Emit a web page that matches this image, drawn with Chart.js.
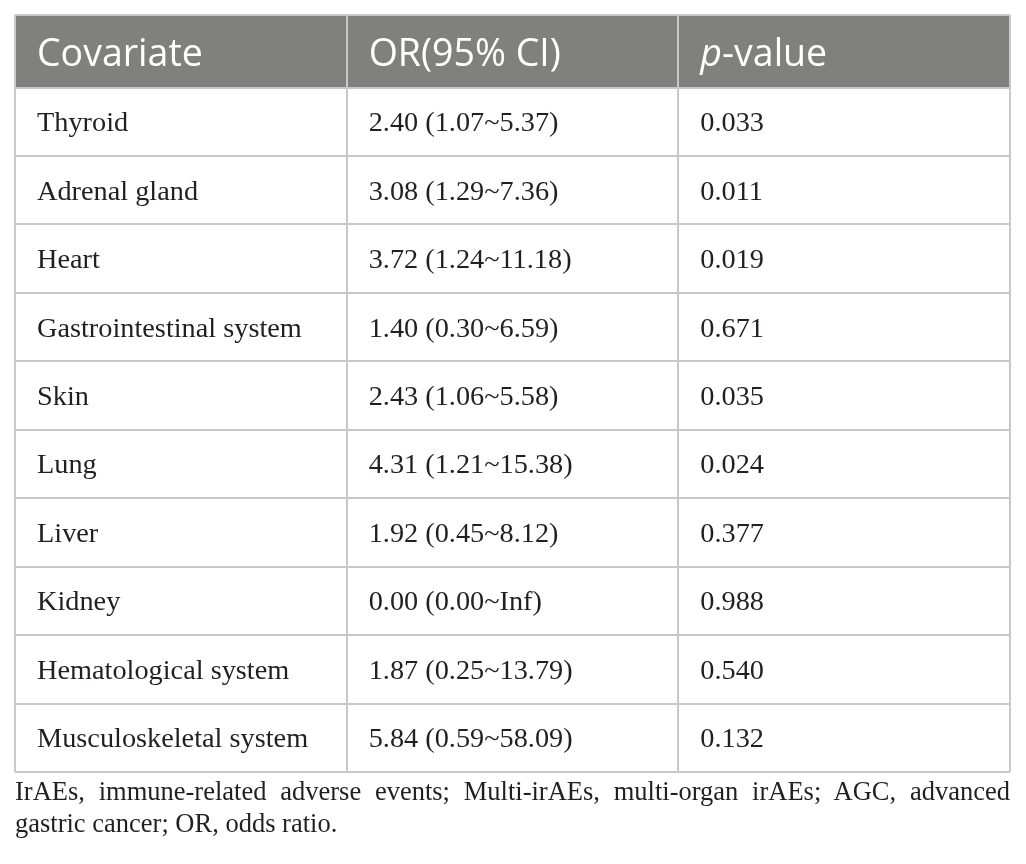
<!DOCTYPE html>
<html>
<head>
<meta charset="utf-8">
<script src="https://cdn.jsdelivr.net/npm/chart.js@4/dist/chart.umd.min.js"></script>
<style>
  html, body { margin: 0; padding: 0; background: #ffffff; }
  #wrap { position: absolute; left: 0; top: 0; width: 1026px; height: 790px; }
  .note { position: absolute; left: 15px; width: 995px; font-family: "Liberation Serif", serif; font-size: 26.5px; line-height: 32px; color: #231f20; white-space: nowrap; }
  #note1 { top: 775px; text-align: justify; text-align-last: justify; white-space: normal; }
  #note2 { top: 807px; }
</style>
</head>
<body>
<div id="wrap"><canvas id="c"></canvas></div>
<div class="note" id="note1">IrAEs, immune-related adverse events; Multi-irAEs, multi-organ irAEs; AGC, advanced</div>
<div class="note" id="note2">gastric cancer; OR, odds ratio.</div>
<script>
// ---- data ----
const headers = ["Covariate", "OR(95% CI)", "p-value"];
const covariates = ["Thyroid", "Adrenal gland", "Heart", "Gastrointestinal system", "Skin", "Lung", "Liver", "Kidney", "Hematological system", "Musculoskeletal system"];
const orValues = [2.40, 3.08, 3.72, 1.40, 2.43, 4.31, 1.92, 0.00, 1.87, 5.84];
const ciLower  = [1.07, 1.29, 1.24, 0.30, 1.06, 1.21, 0.45, 0.00, 0.25, 0.59];
const ciUpper  = [5.37, 7.36, 11.18, 6.59, 5.58, 15.38, 8.12, Infinity, 13.79, 58.09];
const pValues  = [0.033, 0.011, 0.019, 0.671, 0.035, 0.024, 0.377, 0.988, 0.540, 0.132];

const fmt2 = v => (v === Infinity ? "Inf" : v.toFixed(2));
const orText = orValues.map((v, i) => fmt2(v) + " (" + fmt2(ciLower[i]) + "~" + fmt2(ciUpper[i]) + ")");
const pText = pValues.map(v => v.toFixed(3));
const columns = [covariates, orText, pText];

const HEADER_SPAN = 1.06;
const rowEdges = [-HEADER_SPAN].concat(covariates.map((_, i) => i)).concat([covariates.length]);

const datasets = columns.map((col, c) => ({
  label: headers[c],
  data: col.map((_, r) => ({ x: c, y: r + 0.5 })),
  pointRadius: 0,
  showLine: false
}));

const tablePlugin = {
  id: 'tableCells',
  beforeDraw(chart) {
    const { ctx, scales: { x, y } } = chart;
    ctx.save();
    ctx.fillStyle = '#80807f';
    const x0 = x.getPixelForValue(0), x1 = x.getPixelForValue(columns.length);
    const y0 = y.getPixelForValue(-HEADER_SPAN), y1 = y.getPixelForValue(0);
    ctx.fillRect(x0, y0, x1 - x0, y1 - y0);
    ctx.restore();
  },
  afterDatasetsDraw(chart) {
    const { ctx, scales: { x, y } } = chart;
    const pad = 22;
    ctx.save();
    ctx.textBaseline = 'middle';
    ctx.textAlign = 'left';
    // header
    const hy = y.getPixelForValue(-HEADER_SPAN / 2) + 4;
    ctx.fillStyle = '#ffffff';
    const hFont = '37.5px "Open Sans"';
    headers.forEach((h, c) => {
      const hx = x.getPixelForValue(c) + pad;
      if (h.startsWith('p-')) {
        ctx.font = 'italic ' + hFont;
        ctx.fillText('p', hx, hy);
        const w = ctx.measureText('p').width;
        ctx.font = hFont;
        ctx.fillText(h.slice(1), hx + w, hy);
      } else {
        ctx.font = hFont;
        ctx.fillText(h, hx, hy);
      }
    });
    // body
    ctx.fillStyle = '#231f20';
    ctx.font = '28.3px "Liberation Serif"';
    chart.data.datasets.forEach((ds, c) => {
      const meta = chart.getDatasetMeta(c);
      meta.data.forEach((pt, r) => {
        ctx.fillText(columns[c][r], x.getPixelForValue(c) + pad, pt.y + 2);
      });
    });
    ctx.restore();
  }
};

new Chart(document.getElementById('c'), {
  type: 'scatter',
  data: { datasets },
  options: {
    responsive: true,
    maintainAspectRatio: false,
    animation: false,
    events: [],
    layout: { padding: { left: 15, top: 15, right: 16, bottom: 18 } },
    plugins: { legend: { display: false }, tooltip: { enabled: false } },
    scales: {
      x: {
        type: 'linear', min: 0, max: columns.length,
        afterBuildTicks: s => { s.ticks = columns.map((_, i) => ({ value: i })).concat([{ value: columns.length }]); },
        ticks: { display: false },
        grid: { color: '#c8c8c8', lineWidth: 2, drawTicks: false },
        border: { display: false }
      },
      y: {
        type: 'linear', min: -HEADER_SPAN, max: covariates.length, reverse: true,
        afterBuildTicks: s => { s.ticks = rowEdges.map(v => ({ value: v })); },
        ticks: { display: false },
        grid: { color: '#c8c8c8', lineWidth: 2, drawTicks: false },
        border: { display: false }
      }
    }
  },
  plugins: [tablePlugin]
});
</script>
</body>
</html>
